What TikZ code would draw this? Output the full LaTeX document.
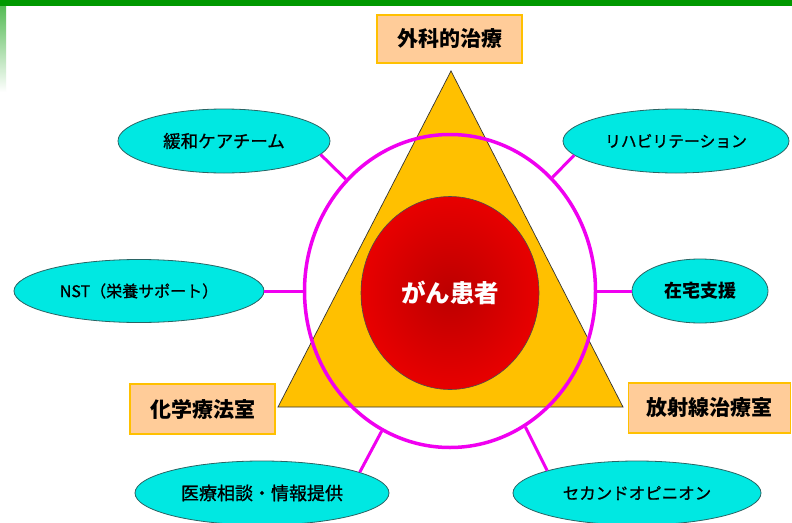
\documentclass[tikz,border=0pt]{standalone}
\usepackage{fontspec}
\newfontfamily\jp{Noto Sans CJK JP}
\newfontfamily\jpm[FakeBold=0.9]{Noto Sans CJK JP}
\usetikzlibrary{shapes.geometric}
\definecolor{topgreen}{HTML}{009900}
\definecolor{stripgreen}{HTML}{55BB55}
\definecolor{mag}{HTML}{F000F0}
\definecolor{cyanfill}{HTML}{00E8E2}
\definecolor{tealedge}{HTML}{2A6464}
\definecolor{peach}{HTML}{FFCC99}
\definecolor{gold}{HTML}{FFC000}
\definecolor{trifill}{HTML}{FFC000}
\definecolor{redin}{HTML}{BC0000}
\definecolor{redout}{HTML}{E80000}
\begin{document}
\begin{tikzpicture}[x=1pt,y=-1pt,
  team/.style={ellipse, draw=tealedge, line width=0.8pt, fill=cyanfill, inner sep=0pt},
  dept/.style={rectangle, draw=gold, line width=1.5pt, fill=peach, inner sep=0pt,
               font=\jp\bfseries\fontsize{21}{24}\selectfont},
  link/.style={draw=mag, line width=3pt}]
\useasboundingbox (0,0) rectangle (792,522);
\fill[white] (0,0) rectangle (792,522);
% top bar and left strip
\fill[topgreen] (0,0) rectangle (792,6);
\shade[top color=stripgreen, bottom color=white] (0,6) rectangle (6,92);
% triangle
\coordinate (apex) at (451,71);
\coordinate (bl) at (278,407);
\coordinate (br) at (623,407);
\draw[fill=trifill, draw=black!80, line width=0.7pt] (apex) -- (br) -- (bl) -- cycle;
% ring
\node[ellipse, draw=mag, line width=3.5pt, minimum width=291pt, minimum height=313pt, inner sep=0pt] (ring) at (450,291) {};
% patient
\node[ellipse, draw=black!70, line width=0.6pt, inner color=redin, outer color=redout,
      minimum width=178pt, minimum height=193pt, inner sep=0pt, text=white,
      font=\jp\bfseries\fontsize{24.5}{28}\selectfont] (patient) at (450,293) {がん患者};
% departments
\node[dept, minimum width=145pt, minimum height=48pt] (geka) at (449.5,39) {外科的治療};
\node[dept, minimum width=145pt, minimum height=50pt] (kagaku) at (202.5,409) {化学療法室};
\node[dept, minimum width=162pt, minimum height=50pt] (hosha) at (709.5,408) {放射線治療室};
% teams
\node[team, minimum width=212pt, minimum height=64pt, font=\jpm\fontsize{17.5}{20}\selectfont] (kanwa) at (224,141) {緩和ケアチーム};
\node[team, minimum width=226pt, minimum height=64pt, font=\jpm\fontsize{15.8}{19}\selectfont] (reha) at (676,141) {リハビリテーション};
\node[team, minimum width=250pt, minimum height=63pt, font=\jpm\fontsize{16}{19}\selectfont] (nst) at (139,291) {NST（栄養サポート）};
\node[team, minimum width=136pt, minimum height=64pt, font=\jp\bfseries\fontsize{18}{21}\selectfont] (zaitaku) at (700,291) {在宅支援};
\node[team, minimum width=254pt, minimum height=64pt, font=\jpm\fontsize{18}{21}\selectfont] (iryo) at (262,493) {医療相談・情報提供};
\node[team, minimum width=248pt, minimum height=64pt, font=\jpm\fontsize{16.5}{20}\selectfont] (second) at (637,493) {セカンドオピニオン};
% connectors
\draw[link] (ring.133) -- (kanwa.352);
\draw[link] (ring.48) -- (reha.188);
\draw[link] (nst.east) -- (ring.west);
\draw[link] (ring.east) -- (zaitaku.west);
\draw[link] (ring.244) -- (iryo.12);
\draw[link] (ring.299) -- (second.166);
\end{tikzpicture}
\end{document}
